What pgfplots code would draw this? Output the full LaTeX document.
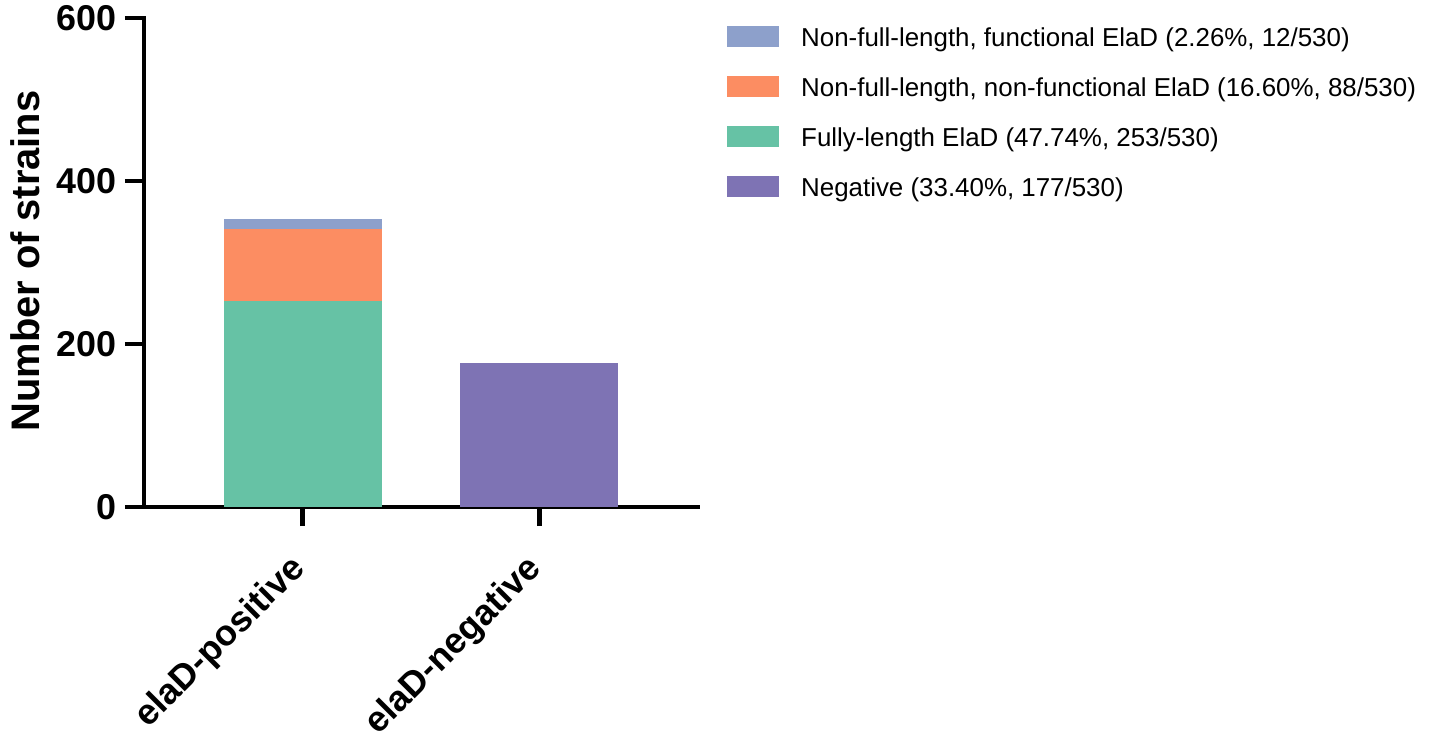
\documentclass[border=0pt]{standalone}
\usepackage{pgfplots}
\pgfplotsset{compat=1.18}
\usepackage{fontspec}
\setmainfont{Liberation Sans}
\definecolor{cfunc}{HTML}{8DA0CB}
\definecolor{cnonf}{HTML}{FC8D62}
\definecolor{cfull}{HTML}{66C2A5}
\definecolor{cneg}{HTML}{7E73B4}
\begin{document}
\begin{tikzpicture}
\useasboundingbox (-144bp,-233bp) rectangle (1286bp,507bp);
\begin{axis}[
  at={(0bp,0bp)}, anchor=south west,
  scale only axis, width=554bp, height=489bp,
  xmin=-0.67, xmax=1.67, ymin=0, ymax=600,
  ybar stacked, bar width=0.667,
  axis x line*=bottom, axis y line*=left,
  axis line style={line width=4.5bp, line cap=rect, -},
  tick align=outside, major tick length=19bp,
  every tick/.style={line width=4.5bp, black},
  ytick={0,200,400,600}, minor tick num=0,
  xtick={0,1}, xticklabels={elaD-positive,elaD-negative},
  /pgf/number format/assume math mode=true,
  yticklabel style={font=\fontsize{36}{40}\selectfont\bfseries, inner sep=8bp},
  xticklabel style={font=\fontsize{36}{40}\selectfont\bfseries, yshift=-35bp, rotate=45, anchor=east, inner sep=4bp},
  ylabel={Number of strains},
  ylabel style={font=\fontsize{40}{46}\selectfont\bfseries, at={(axis description cs:-0.215,0.503)}, anchor=center},
  legend style={at={(1.0523,0.985)}, anchor=north west, draw=none, fill=none, inner sep=0pt,
    row sep=23bp, column sep=22bp, font=\fontsize{26}{30}\selectfont,
    nodes={inner sep=0pt, text height=19bp, text depth=6bp}},
  legend cell align=left,
  legend image code/.code={\path[#1,draw=none] (0bp,-6.5bp) rectangle (52bp,14.5bp);},
]
\addplot[fill=cfull, draw=none, forget plot] coordinates {(0,253) (1,0)};
\addplot[fill=cnonf, draw=none, forget plot] coordinates {(0,88) (1,0)};
\addplot[fill=cfunc, draw=none, forget plot] coordinates {(0,12) (1,0)};
\addplot[fill=cneg, draw=none, forget plot] coordinates {(0,0) (1,177)};
\addlegendimage{fill=cfunc, draw=none}
\addlegendentry{Non-full-length, functional ElaD (2.26\%, 12/530)}
\addlegendimage{fill=cnonf, draw=none}
\addlegendentry{Non-full-length, non-functional ElaD (16.60\%, 88/530)}
\addlegendimage{fill=cfull, draw=none}
\addlegendentry{Fully-length ElaD (47.74\%, 253/530)}
\addlegendimage{fill=cneg, draw=none}
\addlegendentry{Negative (33.40\%, 177/530)}
\end{axis}
\end{tikzpicture}
\end{document}
